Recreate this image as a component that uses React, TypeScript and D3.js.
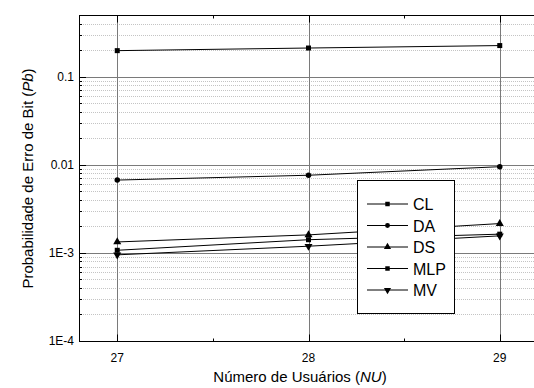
import { useEffect, useRef } from 'react';
import * as d3 from 'd3';

// chart data
const users = [27, 28, 29];
const seriesNames = ['CL', 'DA', 'DS', 'MLP', 'MV'];
const seriesSymbols = ['square', 'circle', 'triangle', 'square', 'triangleDown'];
const clValues = [0.197, 0.211, 0.225];
const daValues = [0.0067, 0.0076, 0.0095];
const dsValues = [0.00133, 0.0016, 0.00215];
const mlpValues = [0.00107, 0.00141, 0.00163];
const mvValues = [0.00095, 0.00119, 0.00156];
const yTickValues = [1e-4, 1e-3, 0.01, 0.1];
const yTickLabels = ['1E-4', '1E-3', '0.01', '0.1'];
const xTickValues = [27, 28, 29];

const App = () => {
  const svgRef = useRef<SVGSVGElement | null>(null);
  const width = 534;
  const height = 388;

  useEffect(() => {
    const svg = d3.select(svgRef.current);
    svg.selectAll('*').remove();

    const margin = { top: 15, right: -4, bottom: 47, left: 79 };
    const x = d3.scaleLinear().domain([26.8, 29.2]).range([margin.left, width - margin.right]);
    const y = d3.scaleLog().domain([1e-4, 0.5]).range([height - margin.bottom, margin.top]);
    const font = '"Liberation Sans", Arial, sans-serif';

    const allSeries = [clValues, daValues, dsValues, mlpValues, mvValues];

    // minor horizontal grid
    const minorY: number[] = [];
    [1e-4, 1e-3, 0.01, 0.1].forEach((d) => {
      for (let k = 2; k <= 9; k++) {
        const v = d * k;
        if (v < 0.5) minorY.push(v);
      }
    });
    const x0 = margin.left;
    const x1 = width - margin.right;
    svg.append('g').selectAll('line').data(minorY).enter().append('line')
      .attr('x1', x0).attr('x2', x1)
      .attr('y1', (d) => Math.round(y(d)) + 0.5).attr('y2', (d) => Math.round(y(d)) + 0.5)
      .attr('stroke', '#c4c4c4').attr('stroke-dasharray', '1,1');

    // major horizontal grid
    svg.append('g').selectAll('line').data(yTickValues.slice(1)).enter().append('line')
      .attr('x1', x0).attr('x2', x1)
      .attr('y1', (d) => Math.round(y(d)) + 0.5).attr('y2', (d) => Math.round(y(d)) + 0.5)
      .attr('stroke', '#7a7a7a');

    // vertical grid
    svg.append('g').selectAll('line').data(xTickValues).enter().append('line')
      .attr('x1', (d) => Math.round(x(d)) + 0.5).attr('x2', (d) => Math.round(x(d)) + 0.5)
      .attr('y1', y(0.5)).attr('y2', y(1e-4))
      .attr('stroke', '#7a7a7a');

    // frame axes
    const axisG = svg.append('g').attr('stroke', '#000');
    const yb = Math.round(y(1e-4)) + 0.5;
    const yt = Math.round(y(0.5)) + 0.5;
    axisG.append('line').attr('x1', x0 + 0.5).attr('x2', x0 + 0.5).attr('y1', yt).attr('y2', yb);
    axisG.append('line').attr('x1', x0).attr('x2', x1).attr('y1', yb).attr('y2', yb);
    axisG.append('line').attr('x1', x0).attr('x2', x1).attr('y1', yt).attr('y2', yt);

    // x ticks (inward)
    [27, 27.5, 28, 28.5, 29].forEach((v) => {
      const len = Number.isInteger(v) ? 7 : 3;
      const px = Math.round(x(v)) + 0.5;
      axisG.append('line').attr('x1', px).attr('x2', px).attr('y1', yb).attr('y2', yb - len);
      axisG.append('line').attr('x1', px).attr('x2', px).attr('y1', yt).attr('y2', yt + len);
    });
    // y ticks (inward)
    yTickValues.forEach((v) => {
      const py = Math.round(y(v)) + 0.5;
      axisG.append('line').attr('x1', x0).attr('x2', x0 + 7).attr('y1', py).attr('y2', py);
    });
    minorY.forEach((v) => {
      const py = Math.round(y(v)) + 0.5;
      axisG.append('line').attr('x1', x0).attr('x2', x0 + 3).attr('y1', py).attr('y2', py);
    });

    // tick labels
    svg.append('g').selectAll('text').data(xTickValues).enter().append('text')
      .attr('x', (d) => x(d)).attr('y', yb + 20)
      .attr('text-anchor', 'middle').attr('font-family', font).attr('font-size', 12)
      .text((d) => String(d));
    svg.append('g').selectAll('text').data(yTickValues).enter().append('text')
      .attr('x', x0 - 5).attr('y', (d) => y(d) + 4)
      .attr('text-anchor', 'end').attr('font-family', font).attr('font-size', 12)
      .text((d, i) => yTickLabels[i]);

    // axis titles
    const xt = svg.append('text')
      .attr('x', 300).attr('y', 382)
      .attr('text-anchor', 'middle').attr('font-family', font).attr('font-size', 15);
    xt.append('tspan').text('Número de Usuários (');
    xt.append('tspan').attr('font-style', 'italic').text('NU');
    xt.append('tspan').text(')');

    const ytl = svg.append('text')
      .attr('transform', `translate(33, ${(yt + yb) / 2}) rotate(-90)`)
      .attr('text-anchor', 'middle').attr('font-family', font).attr('font-size', 15);
    ytl.append('tspan').text('Probabilidade de Erro de Bit (');
    ytl.append('tspan').attr('font-style', 'italic').text('Pb');
    ytl.append('tspan').text(')');

    const symbolOf = (name: string) => {
      if (name === 'circle') return d3.symbolCircle;
      if (name === 'triangle') return d3.symbolTriangle;
      if (name === 'triangleDown') return d3.symbolTriangle;
      return d3.symbolSquare;
    };
    const sizeOf = (name: string) => (name === 'circle' ? 24 : name === 'square' ? 25 : 28);

    // series
    const line = d3.line<number>().x((d, i) => x(users[i])).y((d) => y(d));
    allSeries.forEach((vals, si) => {
      const g = svg.append('g');
      g.append('path').attr('d', line(vals)).attr('fill', 'none').attr('stroke', '#000').attr('stroke-width', 1);
      const sym = seriesSymbols[si];
      g.selectAll('path.m').data(vals).enter().append('path')
        .attr('class', 'm')
        .attr('d', d3.symbol().type(symbolOf(sym)).size(sizeOf(sym))())
        .attr('transform', (d, i) => `translate(${x(users[i])},${y(d)})${sym === 'triangleDown' ? ' rotate(180)' : ''}`)
        .attr('fill', '#000');
    });

    // legend
    const lg = svg.append('g');
    lg.append('rect').attr('x', 357.5).attr('y', 180.5).attr('width', 97).attr('height', 133)
      .attr('fill', '#fff').attr('stroke', '#000');
    seriesNames.forEach((name, i) => {
      const ly = 204 + i * 21.5;
      lg.append('line').attr('x1', 367).attr('x2', 408).attr('y1', ly).attr('y2', ly).attr('stroke', '#000');
      const sym = seriesSymbols[i];
      lg.append('path')
        .attr('d', d3.symbol().type(symbolOf(sym)).size(sizeOf(sym) * 0.8)())
        .attr('transform', `translate(387.5,${ly})${sym === 'triangleDown' ? ' rotate(180)' : ''}`)
        .attr('fill', '#000');
      lg.append('text').attr('x', 413).attr('y', ly + 6)
        .attr('font-family', font).attr('font-size', 16).text(name);
    });
  }, []);

  return (
    <svg ref={svgRef} width={width} height={height}
      style={{ position: 'absolute', left: 0, top: 0, background: '#fff' }} />
  );
};

export default App;
